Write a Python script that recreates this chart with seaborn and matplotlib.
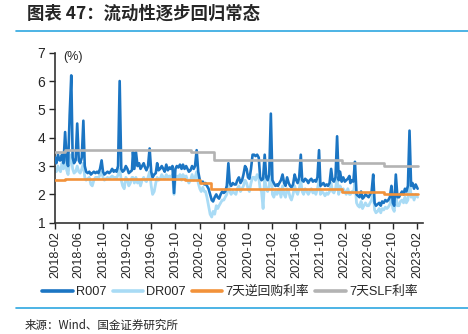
import numpy as np
import pandas as pd
import matplotlib
matplotlib.use("Agg")
import matplotlib.pyplot as plt
import seaborn as sns
from matplotlib.lines import Line2D

# ---------------- data ----------------
# Four readings per month (days 1, 8, 16, 24), Feb 2018 .. Jan 2023, plus final point
r007_by_month = [
    [3.3, 3.1, 3.4, 3.2], [3.2, 3.4, 3.1, 4.2], [3.2, 3.0, 4.8, 6.2], [3.3, 3.1, 3.2, 4.5],
    [3.2, 3.1, 3.3, 4.6], [3.0, 2.8, 2.75, 2.8], [2.7, 2.75, 2.8, 2.75], [2.8, 2.75, 2.9, 3.2],
    [2.8, 2.7, 2.75, 2.8], [2.75, 2.8, 2.9, 2.8], [2.85, 2.8, 3.0, 6.0], [2.9, 2.8, 2.85, 3.0],
    [2.9, 2.75, 2.8, 2.85], [3.5, 2.9, 3.5, 3.0], [3.1, 2.9, 3.0, 3.1], [2.95, 2.85, 3.0, 3.62],
    [2.8, 2.6, 2.7, 2.75], [3.1, 2.85, 2.9, 3.0], [2.9, 2.8, 3.05, 2.85], [2.95, 2.9, 3.0, 2.05],
    [2.9, 3.0, 2.95, 3.05], [2.9, 3.05, 2.9, 3.0], [2.9, 2.8, 2.85, 3.0], [2.9, 3.0, 3.56, 2.8],
    [2.5, 2.4, 2.45, 2.35], [2.4, 2.3, 2.2, 2.0], [1.8, 1.75, 1.9, 2.0], [1.9, 1.85, 2.0, 2.1],
    [2.05, 2.1, 2.3, 3.1], [2.4, 2.3, 2.4, 2.35], [2.35, 2.5, 2.6, 2.4], [2.5, 2.7, 3.0, 2.9],
    [2.6, 2.55, 2.9, 3.4], [3.4, 3.35, 3.4, 3.3], [2.6, 2.5, 2.55, 3.4], [2.6, 2.5, 2.7, 4.85],
    [2.5, 2.4, 2.3, 2.35], [2.3, 2.4, 2.5, 2.7], [2.4, 2.3, 2.6, 2.4], [2.3, 2.25, 2.35, 2.7],
    [2.5, 2.4, 2.6, 3.4], [2.5, 2.45, 2.55, 2.5], [2.4, 2.5, 2.55, 2.45], [2.5, 2.45, 2.6, 3.56],
    [2.3, 2.35, 2.4, 2.3], [2.35, 2.3, 2.4, 2.9], [2.5, 2.45, 2.6, 4.05], [2.5, 2.8, 2.45, 2.6],
    [2.45, 2.5, 2.55, 2.65], [2.4, 2.5, 2.45, 3.15], [2.0, 1.95, 1.9, 2.1], [1.85, 1.9, 2.0, 1.95],
    [1.9, 2.0, 2.1, 2.7], [1.7, 1.6, 1.65, 1.7], [1.6, 1.75, 1.7, 1.8], [1.75, 1.8, 1.9, 2.3],
    [1.7, 1.6, 2.7, 1.9], [1.9, 2.0, 2.1, 2.0], [2.2, 2.1, 2.3, 4.25], [2.3, 2.4, 2.2, 2.35],
]
r007_last = 2.2

dr007_by_month = [
    [2.9, 2.8, 3.0, 2.85], [2.8, 3.1, 2.9, 3.3], [2.85, 2.7, 3.2, 3.4], [2.9, 2.75, 2.8, 3.0],
    [2.8, 2.75, 2.9, 3.1], [2.6, 2.5, 2.55, 2.6], [2.35, 2.3, 2.5, 2.6], [2.6, 2.55, 2.7, 2.8],
    [2.6, 2.5, 2.55, 2.6], [2.55, 2.6, 2.65, 2.6], [2.6, 2.55, 2.7, 2.9], [2.5, 2.3, 2.2, 2.6],
    [2.5, 2.3, 2.4, 2.6], [2.6, 2.4, 2.6, 2.4], [2.5, 2.3, 2.5, 2.6], [2.5, 2.45, 2.6, 2.8],
    [2.3, 2.0, 2.1, 2.4], [2.6, 2.5, 2.55, 2.7], [2.6, 2.55, 2.7, 2.6], [2.65, 2.6, 2.7, 2.0],
    [2.6, 2.65, 2.6, 2.7], [2.5, 2.7, 2.6, 2.65], [2.5, 2.4, 2.5, 2.7], [2.5, 2.6, 2.8, 2.4],
    [2.2, 2.1, 2.25, 2.1], [2.1, 1.9, 1.6, 1.3], [1.2, 1.4, 1.3, 1.6], [1.5, 1.6, 1.7, 1.8],
    [1.8, 1.9, 2.0, 2.4], [2.1, 2.0, 2.1, 2.05], [2.0, 2.2, 2.3, 2.1], [2.2, 2.3, 2.5, 2.4],
    [2.2, 2.1, 2.4, 2.6], [2.6, 2.5, 2.7, 2.6], [2.2, 2.1, 1.5, 2.6], [2.2, 2.1, 2.3, 3.2],
    [2.0, 1.9, 2.1, 2.0], [2.1, 2.2, 1.9, 2.3], [2.0, 1.9, 2.2, 2.1], [1.9, 1.8, 2.0, 2.3],
    [2.1, 2.0, 2.2, 2.5], [2.1, 2.0, 2.2, 2.1], [2.0, 2.1, 2.2, 2.05], [2.1, 2.0, 2.2, 2.5],
    [2.0, 2.1, 2.05, 1.95], [2.05, 2.0, 2.1, 2.4], [2.1, 2.05, 2.2, 2.6], [2.0, 2.3, 2.1, 2.2],
    [2.1, 2.0, 2.2, 2.0], [2.0, 2.1, 2.05, 2.4], [1.7, 1.6, 1.55, 1.75], [1.5, 1.6, 1.7, 1.6],
    [1.6, 1.7, 1.8, 2.1], [1.45, 1.35, 1.4, 1.5], [1.35, 1.5, 1.45, 1.55], [1.5, 1.55, 1.65, 1.9],
    [1.5, 1.4, 2.0, 1.6], [1.6, 1.75, 1.8, 1.7], [1.9, 1.7, 1.8, 2.6], [1.9, 2.0, 1.8, 2.0],
]
dr007_last = 1.9

series_start = "2018-02-01"
series_end = "2023-02-03"
slot_days = [0, 7, 15, 23]

rr_dates = ["2018-02-01", "2018-03-22", "2019-11-18", "2020-02-03", "2020-03-30",
            "2022-01-17", "2022-08-15", "2023-02-03"]
rr_rates = [2.50, 2.55, 2.50, 2.40, 2.20, 2.10, 2.00, 2.00]

slf_dates = ["2018-02-01", "2018-03-22", "2019-12-20", "2020-04-10", "2022-01-17",
             "2022-08-15", "2023-02-03"]
slf_rates = [3.50, 3.55, 3.50, 3.20, 3.10, 3.00, 3.00]

tick_dates = pd.date_range("2018-02-01", "2023-02-01", freq="4MS")
tick_labels = [d.strftime("%Y-%m") for d in tick_dates]

series_names = ["R007", "DR007", "7天逆回购利率", "7天SLF利率"]
title = "图表 47：流动性逐步回归常态"
source = "来源：Wind、国金证券研究所"

# ---------------- build frames ----------------
months = pd.date_range(series_start, periods=len(r007_by_month), freq="MS")
dates = [m + pd.Timedelta(days=d) for m in months for d in slot_days] + [pd.Timestamp(series_end)]
r007 = [v for row in r007_by_month for v in row] + [r007_last]
dr007 = [v for row in dr007_by_month for v in row] + [dr007_last]
df = pd.DataFrame({"date": dates, "R007": r007, "DR007": dr007})
rr = pd.DataFrame({"date": pd.to_datetime(rr_dates), "rate": rr_rates})
slf = pd.DataFrame({"date": pd.to_datetime(slf_dates), "rate": slf_rates})

# ---------------- style ----------------
sns.set_style("ticks")
plt.rcParams["font.family"] = ["Liberation Sans", "Noto Sans CJK SC"]
plt.rcParams["axes.edgecolor"] = "#333333"

c_r = "#1B75C3"
c_dr = "#A9DBF5"
c_rr = "#F2923A"
c_slf = "#B3B3B3"

fig = plt.figure(figsize=(4.68, 3.34), dpi=100)
ax = fig.add_axes([0.1175, 0.3332, 0.7855, 0.509])

sns.lineplot(data=df, x="date", y="DR007", ax=ax, color=c_dr, lw=2.0, estimator=None, zorder=2)
sns.lineplot(data=df, x="date", y="R007", ax=ax, color=c_r, lw=1.9, estimator=None, zorder=3)
sns.lineplot(data=rr, x="date", y="rate", ax=ax, color=c_rr, lw=1.9, estimator=None,
             drawstyle="steps-post", zorder=4)
sns.lineplot(data=slf, x="date", y="rate", ax=ax, color=c_slf, lw=1.9, estimator=None,
             drawstyle="steps-post", zorder=4)

ax.set_ylim(1, 7)
ax.set_yticks(range(1, 8))
ax.set_xlim(pd.Timestamp("2018-02-01"), pd.Timestamp("2023-02-28"))
ax.set_xticks(tick_dates)
ax.set_xticklabels(tick_labels, rotation=90, fontsize=9.2)
ax.tick_params(axis="y", labelsize=10, length=4, width=1, pad=3)
ax.tick_params(axis="x", length=4, width=1, pad=2)
ax.set_xlabel("")
ax.set_ylabel("")
for s in ["top", "right"]:
    ax.spines[s].set_visible(False)
for s in ["left", "bottom"]:
    ax.spines[s].set_linewidth(1.2)
if ax.get_legend() is not None:
    ax.get_legend().remove()

ax.text(0.022, 0.975, "(%)", transform=ax.transAxes, fontsize=9, va="center", ha="left")

handles = [Line2D([], [], color=c, lw=2.6) for c in [c_r, c_dr, c_rr, c_slf]]
fig.legend(handles, series_names, loc="center", bbox_to_anchor=(230 / 468, 1 - 292 / 334),
           ncol=4, frameon=False, fontsize=9.2, handlelength=2.4, handletextpad=0.25,
           columnspacing=0.45)

# header & footer
fig.text(27 / 468, 1 - 14 / 334, title, fontsize=12.5, fontweight="bold", ha="left", va="center",
         family=["Noto Sans CJK SC", "Liberation Sans"])
fig.add_artist(Line2D([16 / 468, 1], [1 - 31 / 334, 1 - 31 / 334], color="#2EA7E0", lw=1.2))
fig.add_artist(Line2D([16 / 468, 1], [1 - 308 / 334, 1 - 308 / 334], color="#2EA7E0", lw=1.2))
fig.text(25 / 468, 1 - 325 / 334, source, fontsize=8.3, ha="left", va="center",
         family=["Noto Sans CJK SC", "Liberation Sans"])

fig.savefig("out.png", dpi=100)
